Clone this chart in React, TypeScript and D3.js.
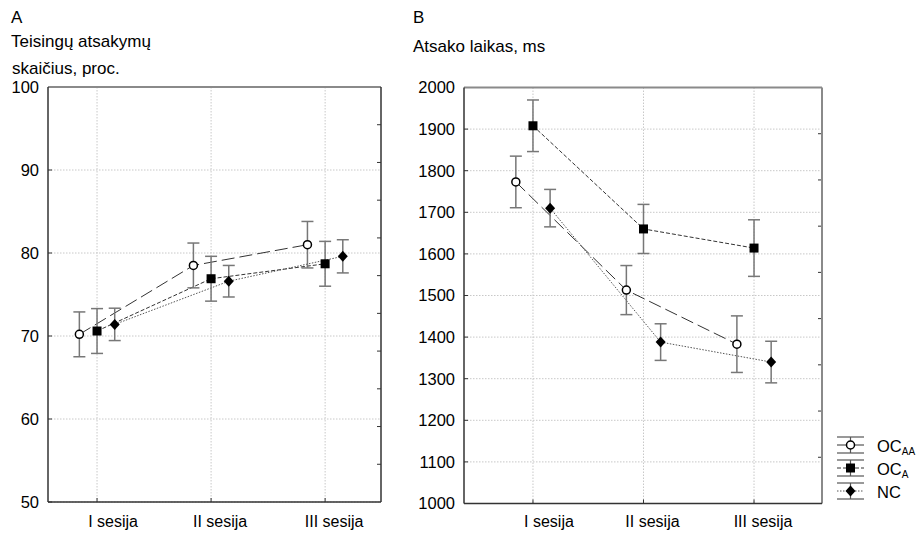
import React from "react";
import * as d3 from "d3";

const sessions = ["I sesija", "II sesija", "III sesija"];
const seriesNames = ["OCAA", "OCA", "NC"];

// Panel A: correct answers, %
const accOCAA = [70.2, 78.5, 81.0];
const accOCAAerr = [2.7, 2.7, 2.8];
const accOCA = [70.6, 76.9, 78.7];
const accOCAerr = [2.7, 2.7, 2.7];
const accNC = [71.4, 76.6, 79.6];
const accNCerr = [1.95, 1.9, 2.0];

// Panel B: response time, ms
const rtOCAA = [1773, 1513, 1383];
const rtOCAAerr = [62, 59, 68];
const rtOCA = [1908, 1660, 1614];
const rtOCAerr = [62, 59, 68];
const rtNC = [1710, 1388, 1340];
const rtNCerr = [45, 44, 50];

const ticksA = [50, 60, 70, 80, 90, 100];
const ticksB = [1000, 1100, 1200, 1300, 1400, 1500, 1600, 1700, 1800, 1900, 2000];

const FONT = "'Liberation Sans', Arial, Helvetica, sans-serif";

const seriesStyle = [
  { dash: "13 5", color: "#333", marker: "circle" },
  { dash: "4 2", color: "#333", marker: "square" },
  { dash: "1.5 1.5", color: "#555", marker: "diamond" },
];
const offsets = [-0.155, 0, 0.155];
const labelDx = [16, 9, 9];

function Marker({ type, x, y }: { type: string; x: number; y: number }) {
  if (type === "circle")
    return <circle cx={x} cy={y} r={4} fill="#fff" stroke="#000" strokeWidth={1.5} />;
  if (type === "square")
    return <rect x={x - 4.5} y={y - 4.5} width={9} height={9} fill="#000" />;
  return (
    <path
      d={`M${x},${y - 5.5}L${x + 5},${y}L${x},${y + 5.5}L${x - 5},${y}Z`}
      fill="#000"
    />
  );
}

function Panel({
  left, right, top, bottom, xDomain, yDomain, ticks, values, errors, rightDivs,
  rightColor,
}: any) {
  const x = d3.scaleLinear().domain(xDomain).range([left, right]);
  const y = d3.scaleLinear().domain(yDomain).range([bottom, top]);
  const line = d3.line<[number, number]>().x((d) => d[0]).y((d) => d[1]);
  const rightTicks = d3.range(1, rightDivs).map((i) => top + ((bottom - top) * i) / rightDivs);
  return (
    <g>
      {ticks.map((t: number) => (
        <line key={"h" + t} x1={left} x2={right} y1={y(t)} y2={y(t)} stroke="#c8c8c8" strokeDasharray="1.5 1.5" />
      ))}
      {sessions.map((s, i) => (
        <line key={"v" + i} x1={x(i + 1)} x2={x(i + 1)} y1={top} y2={bottom} stroke="#c8c8c8" strokeDasharray="1.5 1.5" />
      ))}
      {ticks.map((t: number) => (
        <text key={"tl" + t} x={left - 9} y={y(t)} dy="0.36em" textAnchor="end" fontSize={16.5} fontFamily={FONT} fill="#000">
          {t}
        </text>
      ))}
      {sessions.map((s, i) => (
        <text key={"cl" + i} x={x(i + 1) + labelDx[i]} y={527} textAnchor="middle" fontSize={16} fontFamily={FONT} fill="#000">
          {s}
        </text>
      ))}
      {ticks.map((t: number) => (
        <line key={"lt" + t} x1={left} x2={left + 4} y1={y(t)} y2={y(t)} stroke="#333" />
      ))}
      {sessions.map((s, i) => (
        <line key={"bt" + i} x1={x(i + 1)} x2={x(i + 1)} y1={bottom} y2={bottom - 4} stroke="#333" />
      ))}
      {rightTicks.map((ty: number, i: number) => (
        <line key={"rt" + i} x1={right} x2={right - 4} y1={ty} y2={ty} stroke="#333" />
      ))}
      {values.map((vals: number[], si: number) => (
        <path
          key={"ln" + si}
          d={line(vals.map((v, i) => [x(i + 1 + offsets[si]), y(v)]) as [number, number][]) || ""}
          fill="none"
          stroke={seriesStyle[si].color}
          strokeWidth={1}
          strokeDasharray={seriesStyle[si].dash}
        />
      ))}
      {values.map((vals: number[], si: number) =>
        vals.map((v, i) => {
          const cx = x(i + 1 + offsets[si]);
          const y1 = y(v + errors[si][i]);
          const y2 = y(v - errors[si][i]);
          return (
            <g key={"eb" + si + "_" + i} stroke="#777" strokeWidth={1.5}>
              <line x1={cx} x2={cx} y1={y1} y2={y2} />
              <line x1={cx - 6} x2={cx + 6} y1={y1} y2={y1} />
              <line x1={cx - 6} x2={cx + 6} y1={y2} y2={y2} />
            </g>
          );
        })
      )}
      {values.map((vals: number[], si: number) =>
        vals.map((v, i) => (
          <Marker key={"mk" + si + "_" + i} type={seriesStyle[si].marker} x={x(i + 1 + offsets[si])} y={y(v)} />
        ))
      )}
      <line x1={left} x2={right} y1={top} y2={top} stroke="#8a8a8a" strokeWidth={2} />
      <line x1={right} x2={right} y1={top} y2={bottom} stroke={rightColor} strokeWidth={rightColor === "#333" ? 1.5 : 2} />
      <line x1={left} x2={left} y1={top} y2={bottom} stroke="#333" strokeWidth={1.5} />
      <line x1={left} x2={right} y1={bottom} y2={bottom} stroke="#333" strokeWidth={1.5} />
    </g>
  );
}

export default function App() {
  const legendY = [445, 468, 491];
  return (
    <svg width={920} height={533} style={{ position: "absolute", left: 0, top: 0, background: "#fff" }}>
      <rect width={920} height={533} fill="#fff" />
      <text x={11} y={23} fontSize={17} fontFamily={FONT}>A</text>
      <text x={11} y={47} fontSize={17} fontFamily={FONT}>Teisingų atsakymų</text>
      <text x={12} y={74} fontSize={17} fontFamily={FONT}>skaičius, proc.</text>
      <text x={413} y={23} fontSize={17} fontFamily={FONT}>B</text>
      <text x={413} y={52} fontSize={17} fontFamily={FONT}>Atsako laikas, ms</text>
      <Panel
        left={48} right={381} top={87} bottom={502}
        xDomain={[0.57, 3.49]} yDomain={[50, 100]} ticks={ticksA}
        values={[accOCAA, accOCA, accNC]} errors={[accOCAAerr, accOCAerr, accNCerr]}
        rightDivs={11} rightColor="#333"
      />
      <Panel
        left={464} right={822} top={87.5} bottom={503.5}
        xDomain={[0.376, 3.615]} yDomain={[1000, 2000]} ticks={ticksB}
        values={[rtOCAA, rtOCA, rtNC]} errors={[rtOCAAerr, rtOCAerr, rtNCerr]}
        rightDivs={9} rightColor="#8a8a8a"
      />
      {seriesNames.map((n, i) => {
        const cy = legendY[i];
        const x0 = 837, x1 = 864, cx = 850.5;
        return (
          <g key={"lg" + i}>
            <line x1={x0} x2={x1} y1={cy - 8} y2={cy - 8} stroke="#555" strokeWidth={1.2} />
            <line x1={x0} x2={x1} y1={cy + 8} y2={cy + 8} stroke="#555" strokeWidth={1.2} />
            <line x1={cx} x2={cx} y1={cy - 8} y2={cy + 8} stroke="#555" strokeWidth={1.2} />
            <line x1={x0} x2={x1} y1={cy} y2={cy} stroke={seriesStyle[i].color} strokeDasharray={seriesStyle[i].dash} />
            <Marker type={seriesStyle[i].marker} x={cx} y={cy} />
          </g>
        );
      })}
      <text x={877} y={452} fontSize={16.5} fontFamily={FONT}>
        OC<tspan fontSize={10} dy={3}>AA</tspan>
      </text>
      <text x={877} y={475} fontSize={16.5} fontFamily={FONT}>
        OC<tspan fontSize={10} dy={3}>A</tspan>
      </text>
      <text x={877} y={498} fontSize={16.5} fontFamily={FONT}>NC</text>
    </svg>
  );
}
